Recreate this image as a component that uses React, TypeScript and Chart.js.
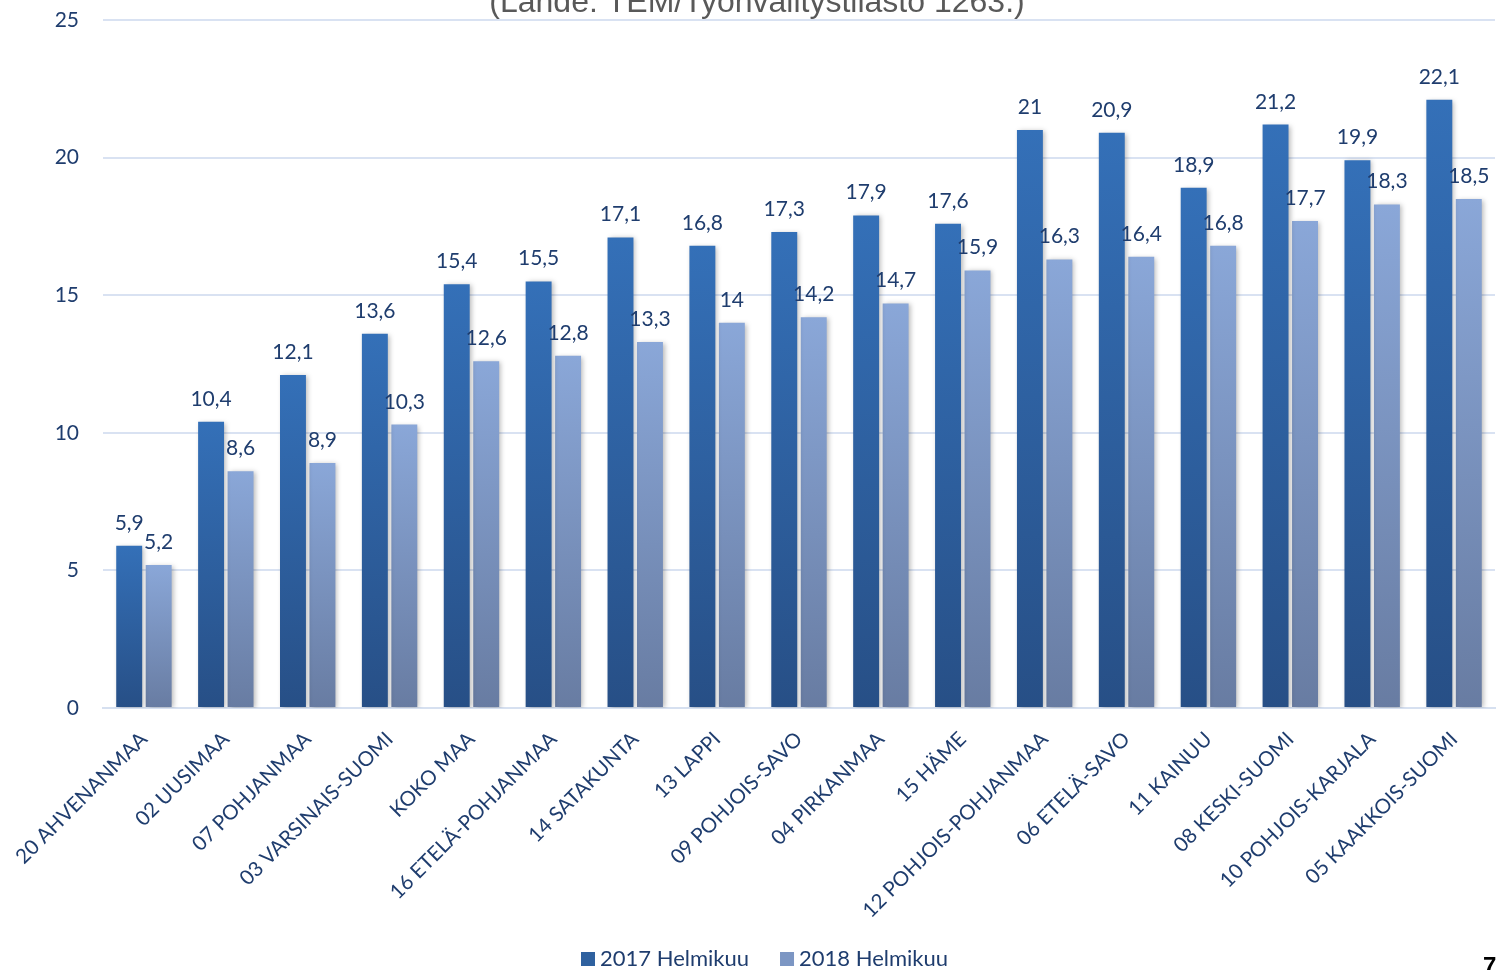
import React, { useEffect, useRef } from "react";
import { Chart, registerables } from "chart.js";

Chart.register(...registerables);

const categories = [
  "20 AHVENANMAA",
  "02 UUSIMAA",
  "07 POHJANMAA",
  "03 VARSINAIS-SUOMI",
  "KOKO MAA",
  "16 ETELÄ-POHJANMAA",
  "14 SATAKUNTA",
  "13 LAPPI",
  "09 POHJOIS-SAVO",
  "04 PIRKANMAA",
  "15 HÄME",
  "12 POHJOIS-POHJANMAA",
  "06 ETELÄ-SAVO",
  "11 KAINUU",
  "08 KESKI-SUOMI",
  "10 POHJOIS-KARJALA",
  "05 KAAKKOIS-SUOMI",
];
const values2017 = [5.9, 10.4, 12.1, 13.6, 15.4, 15.5, 17.1, 16.8, 17.3, 17.9, 17.6, 21, 20.9, 18.9, 21.2, 19.9, 22.1];
const values2018 = [5.2, 8.6, 8.9, 10.3, 12.6, 12.8, 13.3, 14, 14.2, 14.7, 15.9, 16.3, 16.4, 16.8, 17.7, 18.3, 18.5];
const seriesNames = ["2017 Helmikuu", "2018 Helmikuu"];
const yTicks = [0, 5, 10, 15, 20, 25];
const titleText = "(Lähde: TEM/Työnvälitystilasto 1263.)";
const pageNumber = "7";

const TEXT_BLUE = "#1f3d6e";
const FONT = "Lato, 'Open Sans', sans-serif";
const legendColors = ["#2f619f", "#7c96c3"];

function gradientFor(top: [string, string]) {
  return (ctx: any) => {
    const chart = ctx.chart;
    const area = chart.chartArea;
    if (!area || ctx.type !== "data") return top[0];
    const v = ctx.raw as number;
    const ys = chart.scales.y;
    const yTop = ys.getPixelForValue(v);
    const yBase = ys.getPixelForValue(0);
    const g = chart.ctx.createLinearGradient(0, yTop, 0, yBase);
    g.addColorStop(0, top[0]);
    g.addColorStop(1, top[1]);
    return g;
  };
}

const shadowPlugin = {
  id: "barShadow",
  beforeDatasetsDraw(chart: any) {
    const c = chart.ctx;
    c.save();
    c.shadowColor = "rgba(0,0,0,0.28)";
    c.shadowBlur = 5;
    c.shadowOffsetX = 2;
    c.shadowOffsetY = 1;
  },
  afterDatasetsDraw(chart: any) {
    chart.ctx.restore();
  },
};

const labelPlugin = {
  id: "valueLabels",
  afterDatasetsDraw(chart: any) {
    const c = chart.ctx;
    c.save();
    c.font = `21px ${FONT}`;
    c.fillStyle = TEXT_BLUE;
    c.textAlign = "center";
    c.textBaseline = "alphabetic";
    chart.data.datasets.forEach((ds: any, di: number) => {
      const meta = chart.getDatasetMeta(di);
      meta.data.forEach((el: any, i: number) => {
        const v = ds.data[i] as number;
        const txt = String(v).replace(".", ",");
        c.fillText(txt, el.x, el.y - 16);
      });
    });
    c.restore();
  },
};

const extrasPlugin = {
  id: "extras",
  afterDraw(chart: any) {
    const c = chart.ctx;
    c.save();
    // cut-off source title
    c.font = "32px 'Liberation Sans', Arial, sans-serif";
    c.fillStyle = "#595959";
    c.textAlign = "center";
    c.textBaseline = "alphabetic";
    c.fillText(titleText, 757, 12);
    // legend
    c.font = `22px ${FONT}`;
    c.textAlign = "left";
    c.textBaseline = "middle";
    let x = 581;
    const cy = 959;
    seriesNames.forEach((name, i) => {
      c.fillStyle = legendColors[i];
      c.fillRect(x, cy - 7, 14, 14);
      c.fillStyle = TEXT_BLUE;
      c.fillText(name, x + 19, cy);
      x += 19 + c.measureText(name).width + 31;
    });
    // page number
    c.font = "bold 24px 'Liberation Sans', Arial, sans-serif";
    c.fillStyle = "#000000";
    c.textBaseline = "alphabetic";
    c.fillText(pageNumber, 1483, 974);
    c.restore();
  },
};

export default function App() {
  const ref = useRef<HTMLCanvasElement | null>(null);
  useEffect(() => {
    if (!ref.current) return;
    const chart = new Chart(ref.current, {
      type: "bar",
      data: {
        labels: categories,
        datasets: [
          {
            label: seriesNames[0],
            data: values2017,
            backgroundColor: gradientFor(["#3470b8", "#274f86"]),
            categoryPercentage: 0.72,
            barPercentage: 0.88,
          },
          {
            label: seriesNames[1],
            data: values2018,
            backgroundColor: gradientFor(["#8aa7d8", "#687ca2"]),
            categoryPercentage: 0.72,
            barPercentage: 0.88,
          },
        ],
      },
      options: {
        animation: false,
        responsive: false,
        maintainAspectRatio: false,
        layout: { padding: { top: 20, right: 2, left: 0, bottom: 0 } },
        plugins: {
          title: { display: false },
          tooltip: { enabled: false },
          legend: { display: false },
        },
        scales: {
          x: {
            grid: { display: false, drawTicks: false },
            border: { display: true, color: "#d6e0f0", width: 2 },
            ticks: {
              font: { family: FONT, size: 20.5 },
              color: TEXT_BLUE,
              minRotation: 45,
              maxRotation: 45,
              autoSkip: false,
              padding: 19,
            },
            afterFit: (s: any) => {
              s.height = 262;
              s.paddingLeft = 0;
              s.paddingRight = 0;
            },
          },
          y: {
            min: 0,
            max: 25,
            afterBuildTicks: (s: any) => {
              s.ticks = yTicks.map((v) => ({ value: v }));
            },
            grid: { color: "#d9e2f2", lineWidth: 2, drawTicks: false },
            border: { display: false },
            ticks: {
              font: { family: FONT, size: 21 },
              color: TEXT_BLUE,
              padding: 24,
            },
            afterFit: (s: any) => {
              s.width = 103;
              s.paddingTop = 0;
              s.paddingBottom = 0;
            },
          },
        },
      },
      plugins: [shadowPlugin, labelPlugin, extrasPlugin],
    });
    return () => chart.destroy();
  }, []);
  return (
    <div style={{ position: "absolute", left: 0, top: 0, width: 1497, height: 970, background: "#fff" }}>
      <canvas ref={ref} width={1497} height={970} style={{ width: 1497, height: 970, display: "block" }} />
    </div>
  );
}
